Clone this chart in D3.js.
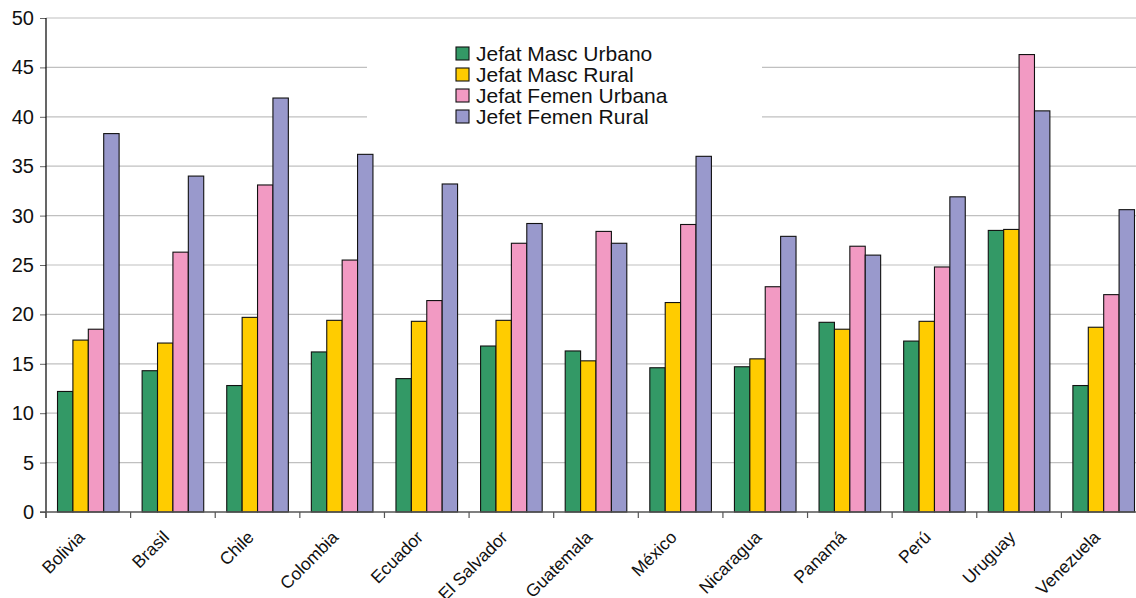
<!DOCTYPE html>
<html><head><meta charset="utf-8">
<script src="https://cdn.jsdelivr.net/npm/d3@7"></script>
<style>body{margin:0;background:#fff;} svg{display:block;font-family:"Liberation Sans",Arial,sans-serif;}</style>
</head><body>
<svg id="c" width="1136" height="598"></svg>
<script>
const categories = ["Bolivia","Brasil","Chile","Colombia","Ecuador","El Salvador","Guatemala","México","Nicaragua","Panamá","Perú","Uruguay","Venezuela"];
const seriesNames = ["Jefat Masc Urbano","Jefat Masc Rural","Jefat Femen Urbana","Jefet Femen Rural"];
const mascUrbano  = [12.2,14.3,12.8,16.2,13.5,16.8,16.3,14.6,14.7,19.2,17.3,28.5,12.8];
const mascRural   = [17.4,17.1,19.7,19.4,19.3,19.4,15.3,21.2,15.5,18.5,19.3,28.6,18.7];
const femenUrbana = [18.5,26.3,33.1,25.5,21.4,27.2,28.4,29.1,22.8,26.9,24.8,46.3,22.0];
const femenRural  = [38.3,34.0,41.9,36.2,33.2,29.2,27.2,36.0,27.9,26.0,31.9,40.6,30.6];
const yTicks = [0,5,10,15,20,25,30,35,40,45,50];
const colors = ["#339966","#FFCC00","#F29AC3","#9999CC"];

(function(){
const FONT = "'Liberation Sans',Arial,sans-serif";
const series = [mascUrbano, mascRural, femenUrbana, femenRural];
const svg = d3.select("#c");
const pL = 46, pR = 1146, pT = 18, pB = 512;

const y = d3.scaleLinear().domain([0,50]).range([pB, pT]);
const x0 = d3.scaleBand().domain(categories).range([pL, pR]).paddingInner(0.272).paddingOuter(0.136);
const x1 = d3.scaleBand().domain(d3.range(4)).range([0, x0.bandwidth()]);
const step = x0.step();

// gridlines
svg.append("g").selectAll("line").data(yTicks.filter(d => d > 0)).join("line")
  .attr("x1", pL).attr("x2", pR).attr("y1", d => y(d)).attr("y2", d => y(d))
  .attr("stroke", "#c0c0c0").attr("stroke-width", 1.2);

// legend background (hides gridlines)
svg.append("rect").attr("x", 367).attr("y", 26).attr("width", 395).attr("height", 102).attr("fill", "#fff");

// bars
const g = svg.append("g");
categories.forEach((c, i) => {
  series.forEach((s, j) => {
    g.append("rect")
      .attr("x", x0(c) + x1(j)).attr("y", y(s[i]))
      .attr("width", x1.bandwidth()).attr("height", y(0) - y(s[i]))
      .attr("fill", colors[j]).attr("stroke", "#111").attr("stroke-width", 1.1);
  });
});

// y axis
const yAxis = d3.axisLeft(y).tickValues(yTicks).tickSize(6).tickPadding(6);
const ya = svg.append("g").attr("transform", `translate(${pL},0)`).call(yAxis);
ya.select(".domain").remove();
ya.selectAll(".tick line").attr("stroke", "#666");
ya.selectAll("text").attr("font-size", 20).attr("fill", "#111").attr("font-family", FONT);
svg.append("line").attr("x1", pL).attr("x2", pL).attr("y1", pT).attr("y2", pB + 6).attr("stroke", "#000").attr("stroke-width", 1.2);

// x axis line and ticks at band boundaries
svg.append("line").attr("x1", pL - 6).attr("x2", pR).attr("y1", pB).attr("y2", pB).attr("stroke", "#555").attr("stroke-width", 1.3);
const bounds = categories.map(c => x0(c) - step * x0.paddingInner() / 2);
svg.append("g").selectAll("line").data(bounds.slice(1)).join("line")
  .attr("x1", d => d).attr("x2", d => d).attr("y1", pB).attr("y2", pB + 6)
  .attr("stroke", "#555").attr("stroke-width", 1.2);

// x labels
svg.append("g").selectAll("text").data(categories).join("text")
  .attr("transform", c => `translate(${x0(c) + x0.bandwidth()/2 - 7},${pB + 22}) rotate(-45)`)
  .attr("text-anchor", "end").attr("dy", "0.35em")
  .attr("font-size", 17.5).attr("fill", "#111").attr("font-family", FONT)
  .text(c => c);

// legend
const lg = svg.append("g");
seriesNames.forEach((n, j) => {
  const yy = 47 + j * 21;
  lg.append("rect").attr("x", 456).attr("y", yy).attr("width", 13).attr("height", 13)
    .attr("fill", colors[j]).attr("stroke", "#111").attr("stroke-width", 1.1);
  lg.append("text").attr("x", 476).attr("y", yy + 14).attr("font-size", 21).attr("fill", "#111")
    .attr("font-family", FONT).text(n);
});
})();
</script>
</body></html>
